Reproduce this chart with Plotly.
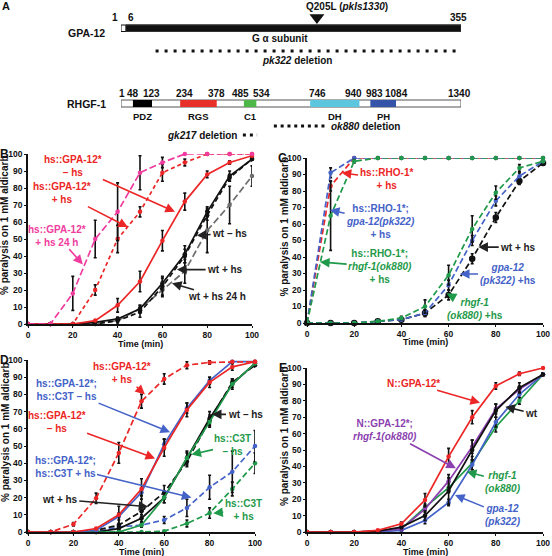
import plotly.graph_objects as go

W, H = 552, 556
FONT = "Liberation Sans, Arial, sans-serif"

RED = "#ec2626"
PINK = "#f03c9e"
BLUE = "#4462c8"
GREEN = "#1f9a4a"
PURPLE = "#8c3fb0"
GRAY = "#6e6e6e"
BLACK = "#111111"

# ---------------- data ----------------
time_min = [0, 10, 20, 30, 40, 50, 60, 70, 80, 90, 100]

# Panel B
b_gpa_hs24 = [0, 0, 18, 50, 66, 89, 95, 100, 100, 100, 100]
b_gpa_hs24_err = [0, 0, 10, 11, 17, 10, 3, 0, 0, 0, 0]
b_gpa_hs = [0, 0, 0, 20, 50, 66, 89, 95, 100, 100, 100]
b_gpa_hs_err = [0, 0, 0, 3, 8, 3, 5, 2, 0, 0, 0]
b_gpa_nohs = [0, 0, 0, 2, 11, 25, 49, 72, 88, 95, 99]
b_gpa_nohs_err = [0, 0, 0, 0, 4, 6, 6, 5, 2, 1, 0]
b_wt_nohs = [0, 0, 0, 1, 3, 9, 24, 41, 66, 87, 97]
b_wt_nohs_err = [0, 0, 0, 0, 1, 2, 4, 5, 3, 3, 1]
b_wt_hs = [0, 0, 0, 0, 2, 7, 22, 40, 64, 86, 97]
b_wt_hs_err = [0, 0, 0, 0, 2, 3, 5, 4, 3, 2, 1]
b_wt_hs24 = [0, 0, 0, 0, 2, 9, 20, 31, 55, 70, 87]
b_wt_hs24_err = [0, 0, 0, 0, 1, 2, 4, 7, 13, 11, 6]

# Panel C
c_rho = [0, 83, 100, 100, 100, 100, 100, 100, 100, 100, 100]
c_rho_err = [0, 3, 0, 0, 0, 0, 0, 0, 0, 0, 0]
c_rho_gpa = [0, 91, 100, 100, 100, 100, 100, 100, 100, 100, 100]
c_rho_gpa_err = [0, 3, 0, 0, 0, 0, 0, 0, 0, 0, 0]
c_rho_rhgf = [0, 65, 98, 100, 100, 100, 100, 100, 100, 100, 100]
c_rho_rhgf_err = [0, 21, 1, 0, 0, 0, 0, 0, 0, 0, 0]
c_rhgf = [0, 0, 0, 1, 3, 10, 29, 57, 79, 94, 98]
c_rhgf_err = [0, 0, 0, 0, 1, 4, 6, 8, 4, 2, 1]
c_gpa = [0, 0, 0, 1, 2, 6, 23, 50, 74, 89, 98]
c_gpa_err = [0, 0, 0, 0, 1, 2, 3, 3, 3, 2, 1]
c_wt = [0, 0, 0, 1, 2, 6, 17, 39, 64, 86, 97]
c_wt_err = [0, 0, 0, 0, 1, 2, 3, 3, 3, 2, 1]

# Panel D
d_gpa_hs = [0, 0, 4.5, 19.6, 46, 76, 89, 97, 98.6, 99, 99]
d_gpa_hs_err = [0, 0, 1, 3, 6, 4, 3, 2, 1, 0, 0]
d_gpa_nohs = [0, 0, 0, 2, 10, 25, 49, 71, 87, 96, 99]
d_gpa_nohs_err = [0, 0, 0, 0, 5, 6, 5, 4, 3, 2, 0]
d_gpa_c3t_nohs = [0, 0, 0, 1, 9, 23, 51, 72, 88, 99, 99]
d_gpa_c3t_nohs_err = [0, 0, 0, 0, 2, 2, 3, 3, 2, 1, 0]
d_wt_nohs = [0, 0, 0, 0, 2, 8, 20, 43, 66, 86, 98]
d_wt_nohs_err = [0, 0, 0, 0, 1, 2, 3, 4, 4, 3, 1]
d_c3t_nohs = [0, 0, 0, 0, 0, 4, 20, 43, 64, 86, 98]
d_c3t_nohs_err = [0, 0, 0, 0, 0, 1, 3, 3, 3, 2, 1]
d_wt_hs = [0, 0, 0, 1, 4, 12, 23, 41, 65, 87, 97]
d_wt_hs_err = [0, 0, 0, 0, 6, 7, 4, 3, 3, 2, 1]
d_gpa_c3t_hs = [0, 0, 0, 0, 3, 4, 7, 14, 26, 35, 50]
d_gpa_c3t_hs_err = [0, 0, 0, 0, 1, 1, 2, 5, 7, 12, 9]
d_c3t_hs = [0, 0, 0, 0, 0, 0, 0.5, 5, 11, 25, 40]
d_c3t_hs_err = [0, 0, 0, 0, 0, 0, 0, 2, 3, 4, 6]

# Panel E
e_ngpa = [0, 0, 0, 1, 5, 19.5, 46, 70, 89, 96.5, 100]
e_ngpa_err = [0, 0, 0, 0, 1, 4, 5, 4, 2, 1, 0]
e_wt = [0, 0, 0, 0.5, 3, 10, 25, 50, 74, 88, 96]
e_wt_err = [0, 0, 0, 0, 1, 3, 8, 6, 4, 3, 1]
e_ngpa_rhgf = [0, 0, 0, 0.5, 2, 14, 31, 52, 75, 87, 96]
e_ngpa_rhgf_err = [0, 0, 0, 0, 1, 2, 4, 4, 3, 2, 1]
e_rhgf = [0, 0, 0, 0.5, 2, 15, 27, 42, 64, 80, 96]
e_rhgf_err = [0, 0, 0, 0, 1, 2, 3, 4, 3, 2, 1]
e_gpa = [0, 0, 0, 0, 1, 7, 18, 41, 67, 84, 96]
e_gpa_err = [0, 0, 0, 0, 1, 2, 2, 3, 3, 2, 1]

# Panel A (protein diagrams, residue numbers)
gpa_length = 355
gpa_subunit = [6, 355]
gpa_ticks = [1, 6, 355]
gpa_mutation = 205
gpa_deletion_pk322 = [37, 351]

rhgf_length = 1340
rhgf_domain_names = ["PDZ", "RGS", "C1", "DH", "PH"]
rhgf_domain_starts = [48, 234, 485, 746, 983]
rhgf_domain_ends = [123, 378, 534, 940, 1084]
rhgf_domain_colors = ["#000000", "#e8302a", "#4db848", "#5bc6de", "#3553a8"]
rhgf_ticks = [1, 48, 123, 234, 378, 485, 534, 746, 940, 983, 1084, 1340]
rhgf_deletion_ok880 = [603, 816]
rhgf_deletion_gk217 = [481, 537]

# ---------------- layout helpers ----------------
def px(x):
    return x / W


def py(y):
    return 1 - y / H


fig = go.Figure()

panels = {
    "B": dict(ax="", x0=28, x1=252, y0=154, y1=324),
    "C": dict(ax="2", x0=307, x1=543, y0=158, y1=323),
    "D": dict(ax="3", x0=28, x1=255, y0=360, y1=532),
    "E": dict(ax="4", x0=307, x1=543, y0=368, y1=532),
}


def add_series(panel, y, err, color, dash="solid", msize=4.5, symbol="circle", width=1.7):
    a = panels[panel]["ax"]
    fig.add_trace(go.Scatter(
        x=time_min, y=y, mode="lines+markers",
        line=dict(color=color, width=width, dash=dash),
        marker=dict(color=color, size=msize, symbol=symbol),
        error_y=dict(type="data", array=err, color=BLACK, thickness=1.6, width=1.5),
        xaxis="x" + a, yaxis="y" + a, cliponaxis=False, showlegend=False,
        hoverinfo="skip"))


LD = "7px,3px"
SD = "4px,3px"
MD = "5px,3px"

# B
add_series("B", b_wt_hs24, b_wt_hs24_err, GRAY, LD)
add_series("B", b_wt_hs, b_wt_hs_err, BLACK, MD)
add_series("B", b_wt_nohs, b_wt_nohs_err, BLACK)
add_series("B", b_gpa_nohs, b_gpa_nohs_err, RED)
add_series("B", b_gpa_hs, b_gpa_hs_err, RED, SD)
add_series("B", b_gpa_hs24, b_gpa_hs24_err, PINK, LD)
# C
add_series("C", c_wt, c_wt_err, BLACK, "6px,3px", msize=6.5)
add_series("C", c_gpa, c_gpa_err, BLUE, "6px,3px")
add_series("C", c_rhgf, c_rhgf_err, GREEN, "6px,3px")
add_series("C", c_rho, c_rho_err, RED, "6px,3px")
add_series("C", c_rho_gpa, c_rho_gpa_err, BLUE, "6px,3px")
add_series("C", c_rho_rhgf, c_rho_rhgf_err, GREEN, "6px,3px")
# D
add_series("D", d_c3t_hs, d_c3t_hs_err, GREEN, "6px,3px")
add_series("D", d_gpa_c3t_hs, d_gpa_c3t_hs_err, BLUE, "6px,3px")
add_series("D", d_wt_hs, d_wt_hs_err, BLACK, "6px,3px")
add_series("D", d_wt_nohs, d_wt_nohs_err, BLACK)
add_series("D", d_c3t_nohs, d_c3t_nohs_err, GREEN)
add_series("D", d_gpa_c3t_nohs, d_gpa_c3t_nohs_err, BLUE)
add_series("D", d_gpa_nohs, d_gpa_nohs_err, RED)
add_series("D", d_gpa_hs, d_gpa_hs_err, RED, "6px,3px")
# E
add_series("E", e_rhgf, e_rhgf_err, GREEN)
add_series("E", e_gpa, e_gpa_err, BLUE)
add_series("E", e_ngpa_rhgf, e_ngpa_rhgf_err, PURPLE)
add_series("E", e_wt, e_wt_err, BLACK)
add_series("E", e_ngpa, e_ngpa_err, RED)

axis_common = dict(showline=True, linecolor=BLACK, linewidth=1.5, ticks="outside",
                   ticklen=2, tickwidth=1.2, tickcolor=BLACK, showgrid=False,
                   zeroline=False, automargin=False,
                   tickfont=dict(family=FONT, size=8.5, color=BLACK, weight="bold"))

annotations = []
for name, p in panels.items():
    a = p["ax"]
    xa = "xaxis" + a
    ya = "yaxis" + a
    fig.update_layout(**{
        xa: dict(domain=[px(p["x0"]), px(p["x1"])], range=[0, 100], dtick=20, tick0=0,
                 anchor="y" + a, **axis_common),
        ya: dict(domain=[py(p["y1"]), py(p["y0"])], range=[0, 100], dtick=10, tick0=0,
                 anchor="x" + a, **axis_common),
    })
    # Time title
    annotations.append(dict(text="<b>Time (min)</b>", xref="paper", yref="paper",
                            x=px((p["x0"] + p["x1"]) / 2), y=py(p["y1"] + 19.5),
                            showarrow=False, font=dict(family=FONT, size=9, color=BLACK),
                            xanchor="center", yanchor="middle"))
    # Y title
    annotations.append(dict(text="<b>% paralysis on 1 mM aldicarb</b>", xref="paper", yref="paper",
                            x=px(p["x0"] - 23), y=py((p["y0"] + p["y1"]) / 2 - 14),
                            textangle=-90, showarrow=False,
                            font=dict(family=FONT, size=10, color=BLACK),
                            xanchor="center", yanchor="middle"))
    # Panel letter
    annotations.append(dict(text="<b>%s</b>" % name, xref="paper", yref="paper",
                            x=px(p["x0"] - 24), y=py(p["y0"]),
                            showarrow=False, font=dict(family=FONT, size=12, color=BLACK),
                            xanchor="center", yanchor="middle"))


def arrow_note(panel, text, color, head, tail, size=10):
    a = panels[panel]["ax"]
    annotations.append(dict(
        text="<b>%s</b>" % text, x=head[0], y=head[1], ax=tail[0], ay=tail[1],
        xref="x" + a, yref="y" + a, axref="x" + a, ayref="y" + a,
        showarrow=True, arrowhead=2, arrowsize=1.2, arrowwidth=1.6, arrowcolor=color,
        font=dict(family=FONT, size=size, color=color), align="center"))


AB = "#222222"
arrow_note("B", "hs::GPA-12*<br>– hs", RED, (65.6, 66), (20, 93))
arrow_note("B", "hs::GPA-12*<br>+ hs", RED, (44.6, 57), (15, 77))
arrow_note("B", "hs::GPA-12*<br>+ hs 24 h", PINK, (24.5, 35), (13, 52))
arrow_note("B", "wt – hs", AB, (75.4, 52), (90, 53.5))
arrow_note("B", "wt + hs", AB, (66.5, 32), (88, 32))
arrow_note("B", "wt + hs 24 h", AB, (64.3, 24), (84.5, 16))

arrow_note("C", "hs::RHO-1*<br>+ hs", RED, (14.7, 91), (33.5, 87.5))
arrow_note("C", "hs::RHO-1*;<br><i>gpa-12(pk322)</i><br>+ hs", BLUE, (9.7, 68.5), (31.2, 61.8))
arrow_note("C", "hs::RHO-1*;<br><i>rhgf-1(ok880)</i><br>+ hs", GREEN, (5.5, 37), (31, 34))
arrow_note("C", "wt + hs", AB, (72.6, 46), (89.5, 46))
arrow_note("C", "<i>gpa-12</i><br><i>(pk322)</i> +hs", BLUE, (64.8, 29.7), (85, 29.7))
arrow_note("C", "<i>rhgf-1</i><br><i>(ok880)</i> +hs", GREEN, (59.2, 18), (71.2, 8.5))

arrow_note("D", "hs::GPA-12*<br>+ hs", RED, (51.5, 80), (41.3, 92.3))
arrow_note("D", "hs::GPA-12*;<br>hs::C3T – hs", BLUE, (62.6, 58), (17, 82.5))
arrow_note("D", "hs::GPA-12*<br>– hs", RED, (56, 42.8), (12.6, 64))
arrow_note("D", "hs::GPA-12*;<br>hs::C3T + hs", BLUE, (72, 20), (16.3, 38))
arrow_note("D", "wt + hs", AB, (53, 14.7), (14, 19))
arrow_note("D", "wt – hs", AB, (81, 68.4), (95.6, 68.4))
arrow_note("D", "hs::C3T<br>– hs", GREEN, (72, 45), (90.3, 50.6))
arrow_note("D", "hs::C3T<br>+ hs", GREEN, (81.6, 10.9), (94.8, 12.8))

arrow_note("E", "N::GPA-12*", RED, (73.3, 78.8), (45, 90.7))
arrow_note("E", "wt", AB, (84, 76.4), (95.2, 72.4))
arrow_note("E", "N::GPA-12*;<br><i>rhgf-1(ok880)</i>", PURPLE, (63.1, 38.8), (33, 62))
arrow_note("E", "<i>rhgf-1</i><br><i>(ok880)</i>", GREEN, (67.7, 36.8), (83.2, 30.7))
arrow_note("E", "<i>gpa-12</i><br><i>(pk322)</i>", BLUE, (62.7, 22.6), (83.2, 10.4))

# ---------------- Panel A ----------------
hidden = dict(visible=False, showgrid=False, zeroline=False, automargin=False)
fig.update_layout(
    xaxis5=dict(domain=[px(121), px(461)], range=[1, gpa_length], anchor="y5", **hidden),
    yaxis5=dict(domain=[py(75), 1], range=[75, 0], anchor="x5", **hidden),
    xaxis6=dict(domain=[px(121), px(461)], range=[1, rhgf_length], anchor="y6", **hidden),
    yaxis6=dict(domain=[py(140), py(75)], range=[140, 75], anchor="x6", **hidden),
)
fig.add_trace(go.Scatter(x=[gpa_mutation], y=[17.5], mode="markers",
                         marker=dict(symbol="triangle-down", size=13, color=BLACK),
                         xaxis="x5", yaxis="y5", showlegend=False, hoverinfo="skip",
                         cliponaxis=False))
fig.add_trace(go.Scatter(x=[1], y=[100], mode="markers", marker=dict(opacity=0),
                         xaxis="x6", yaxis="y6", showlegend=False, hoverinfo="skip"))

shapes = []
shapes.append(dict(type="rect", xref="x5", yref="y5", x0=1, x1=gpa_length, y0=25, y1=31.5,
                   fillcolor="white", line=dict(color=BLACK, width=1)))
shapes.append(dict(type="rect", xref="x5", yref="y5", x0=gpa_subunit[0], x1=gpa_subunit[1],
                   y0=25, y1=31.5, fillcolor=BLACK, line=dict(color="#333333", width=1)))
shapes.append(dict(type="line", xref="x5", yref="y5", x0=gpa_deletion_pk322[0],
                   x1=gpa_deletion_pk322[1], y0=51, y1=51,
                   line=dict(color=BLACK, width=3, dash="3px,6px")))
shapes.append(dict(type="rect", xref="x6", yref="y6", x0=1, x1=rhgf_length, y0=100, y1=107,
                   fillcolor="white", line=dict(color="#555555", width=1)))
for s, e, c in zip(rhgf_domain_starts, rhgf_domain_ends, rhgf_domain_colors):
    shapes.append(dict(type="rect", xref="x6", yref="y6", x0=s, x1=e, y0=100, y1=107,
                       fillcolor=c, line=dict(width=0)))
shapes.append(dict(type="line", xref="x6", yref="y6", x0=rhgf_deletion_ok880[0],
                   x1=rhgf_deletion_ok880[1], y0=126, y1=126,
                   line=dict(color=BLACK, width=3, dash="3px,3.8px")))
shapes.append(dict(type="line", xref="x6", yref="y6", x0=rhgf_deletion_gk217[0],
                   x1=rhgf_deletion_gk217[1], y0=135, y1=135,
                   line=dict(color=BLACK, width=3, dash="3px,4px")))


def txt(text, x, y, xref, yref, size=10, xanchor="center", xshift=0, color=BLACK):
    annotations.append(dict(text=text, x=x, y=y, xref=xref, yref=yref, showarrow=False,
                            xanchor=xanchor, yanchor="middle", xshift=xshift,
                            font=dict(family=FONT, size=size, color=color)))


txt("<b>A</b>", px(6), py(6), "paper", "paper", size=11)
txt("<b>GPA-12</b>", px(86), 33, "paper", "y5", size=10.5)
gpa_tick_anchor = {1: ("right", -1), 6: ("left", 0)}
for t in gpa_ticks:
    anc, sh = gpa_tick_anchor.get(t, ("center", -3))
    txt("<b>%d</b>" % t, t, 17, "x5", "y5", size=10, xanchor=anc, xshift=sh)
txt("<b>Q205L (<i>pkIs1330</i>)</b>", gpa_mutation, 6, "x5", "y5", size=10, xanchor="left",
    xshift=-13)
txt("<b>G α subunit</b>", px(280), 38, "paper", "y5", size=10)
txt("<b><i>pk322</i> deletion</b>", px(297), 60, "paper", "y5", size=10)

txt("<b>RHGF-1</b>", px(86), 104, "paper", "y6", size=10.5)
rhgf_tick_shift = {1: 1, 234: 4, 485: -3, 534: 5, 746: 7, 940: -6, 983: 4, 1340: -2}
for t in rhgf_ticks:
    txt("<b>%d</b>" % t, t, 93, "x6", "y6", size=10, xshift=rhgf_tick_shift.get(t, 0))
for n, s, e in zip(rhgf_domain_names, rhgf_domain_starts, rhgf_domain_ends):
    txt("<b>%s</b>" % n, (s + e) / 2, 116, "x6", "y6", size=9.5)
txt("<b><i>ok880</i> deletion</b>", rhgf_deletion_ok880[1], 126, "x6", "y6", size=10,
    xanchor="left", xshift=1)
txt("<b><i>gk217</i> deletion</b>", rhgf_deletion_gk217[0], 135, "x6", "y6", size=10,
    xanchor="right", xshift=-4)

fig.update_layout(
    width=W, height=H, margin=dict(l=0, r=0, t=0, b=0, autoexpand=False),
    paper_bgcolor="white", plot_bgcolor="rgba(0,0,0,0)",
    font=dict(family=FONT, color=BLACK),
    annotations=annotations, shapes=shapes, showlegend=False,
)

fig.write_html("out.html", config={"displayModeBar": False},
               post_script="document.body.style.margin='0';document.body.style.padding='0';")
